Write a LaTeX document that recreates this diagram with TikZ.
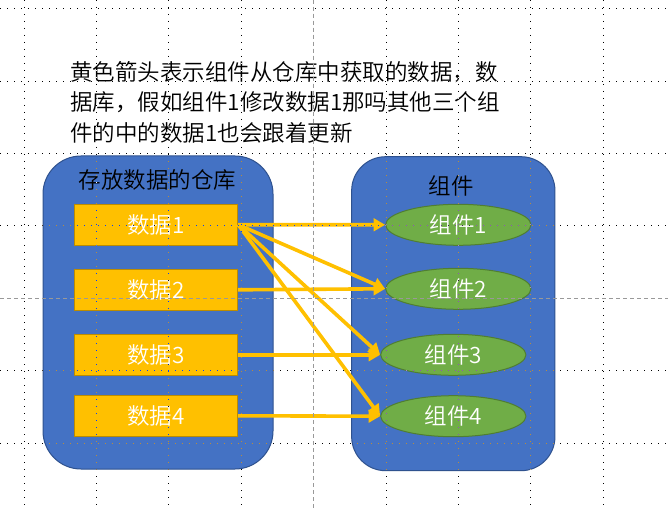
\documentclass[tikz,border=0pt]{standalone}
\usepackage{fontspec}
\setmainfont{Noto Sans CJK SC}[UprightFont=* DemiLight]
\usetikzlibrary{shapes.geometric,arrows.meta}
\definecolor{pblue}{HTML}{4472C4}
\definecolor{pblueb}{HTML}{2F528F}
\definecolor{pyel}{HTML}{FFC000}
\definecolor{pyelb}{HTML}{BC8C00}
\definecolor{pgreen}{HTML}{70AD47}
\definecolor{pgreenb}{HTML}{507E32}
\tikzset{
  bigfont/.style={font=\fontsize{22.5pt}{30pt}\selectfont},
  panel/.style={draw=pblueb, fill=pblue, line width=1pt, inner sep=0pt},
  databox/.style={draw=pyelb, fill=pyel, line width=1pt, minimum width=163.4pt, minimum height=41pt, inner sep=0pt, text=white, bigfont},
  compell/.style={ellipse, draw=pgreenb, fill=pgreen, line width=1pt, minimum width=145.3pt, minimum height=41pt, inner sep=0pt, text=white, bigfont},
  titletext/.style={inner sep=0pt, text=black, bigfont},
  arr/.style={draw=pyel, line width=3.6pt, -{Triangle[length=11.5pt,width=12.5pt]}},
  gridline/.style={draw=white, line width=1pt, dash pattern=on 1pt off 6pt},
  guideline/.style={draw=black!40, line width=1pt, dash pattern=on 4pt off 3pt}
}
\begin{document}
\begin{tikzpicture}[x=1pt,y=-1pt]
\useasboundingbox (0,0) rectangle (668,510);
\fill[white] (0,0) rectangle (668,510);
% explanation text
\node[titletext, anchor=west] (t1) at (70,72) {黄色箭头表示组件从仓库中获取的数据，数};
\node[titletext, anchor=west] (t2) at (70,102.5) {据库，假如组件1修改数据1那吗其他三个组};
\node[titletext, anchor=west] (t3) at (70,133) {件的中的数据1也会跟着更新};
% panels
\node[panel, rounded corners=38pt, minimum width=230pt, minimum height=313pt] (store) at (158,312.5) {};
\node[panel, rounded corners=34pt, minimum width=203.3pt, minimum height=314pt] (comps) at (453.3,313.7) {};
\node[titletext] (storetitle) at (157.5,180) {存放数据的仓库};
\node[titletext] (compstitle) at (451,186) {组件};
% data boxes
\node[databox] (d1) at (156,224.7) {数据1};
\node[databox] (d2) at (156,289.8) {数据2};
\node[databox] (d3) at (156,354.8) {数据3};
\node[databox] (d4) at (156,415.8) {数据4};
% components
\node[compell] (c1) at (458.3,224.8) {组件1};
\node[compell] (c2) at (458.3,288.8) {组件2};
\node[compell] (c3) at (453.3,354.8) {组件3};
\node[compell] (c4) at (453.3,416.2) {组件4};
% arrows
\draw[arr] (d1.east) -- (c1.west);
\draw[arr] (d1.east) -- (c2.west);
\draw[arr] (d1.east) -- (c3.west);
\draw[arr] (d1.east) -- (c4.west);
\draw[arr] (d2.east) -- (c2.west);
\draw[arr] (d3.east) -- (c3.west);
\draw[arr] (d4.east) -- (c4.west);
% inverted dotted grid on top
\begin{scope}[blend mode=difference]
\foreach \i in {0,...,8} {
  \draw[gridline] ({24+72.4*\i},0) -- ({24+72.4*\i},510);
}
\foreach \j in {0,...,6} {
  \draw[gridline] (0,{8.7+72.4*\j}) -- (668,{8.7+72.4*\j});
}
\end{scope}
% guides on top
\draw[guideline] (313.3,0) -- (313.3,510);
\draw[guideline] (0,298.3) -- (668,298.3);
\end{tikzpicture}
\end{document}
